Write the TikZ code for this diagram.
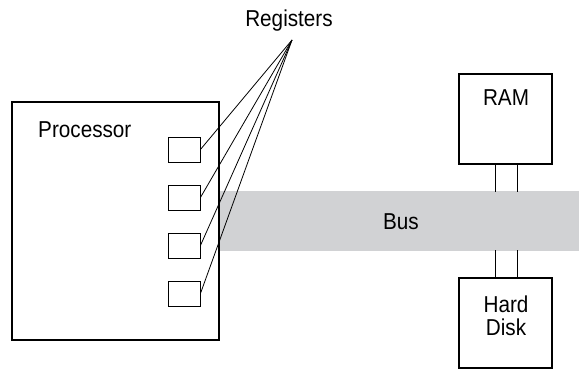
\documentclass[tikz,border=0pt]{standalone}
\usepackage{fontspec}
\setmainfont{Liberation Sans}[FakeStretch=0.9]
\begin{document}
\begin{tikzpicture}[x=1pt,y=-1pt,
  lbl/.style={font=\fontsize{23}{23}\selectfont, inner sep=0pt, anchor=base},
  regbox/.style={draw, line width=0.9pt, minimum width=32pt, minimum height=25pt, inner sep=0pt},
  devbox/.style={draw, line width=1.1pt, minimum width=93pt, minimum height=90pt, inner sep=0pt},
  link/.style={line width=0.8pt},
  busline/.style={line width=1pt}]
\useasboundingbox (0,0) rectangle (579,369);
% bus
\fill[fill={rgb,255:red,209;green,210;blue,212}] (219,191) rectangle (579,251);
\node[lbl] (bus) at (401,229) {Bus};
% processor
\node[draw, line width=1.5pt, minimum width=207pt, minimum height=238pt, inner sep=0pt] (proc) at (115.5,221) {};
\node[lbl, anchor=base west] (proclbl) at (38,138) {Processor};
% registers
\node[regbox] (r1) at (184,149.5) {};
\node[regbox] (r2) at (184,197.5) {};
\node[regbox] (r3) at (184,245.5) {};
\node[regbox] (r4) at (184,293.5) {};
\node[lbl] (reglbl) at (289,27) {Registers};
\coordinate (conv) at (292,40);
\foreach \i in {1,...,4} \draw[link] (r\i.east) -- (conv);
% RAM and disk
\node[devbox] (ram) at (505.5,119) {};
\node[lbl] (ramlbl) at (506,106) {RAM};
\node[devbox] (disk) at (505.5,323) {};
\node[lbl] (hardlbl) at (506,312) {Hard};
\node[lbl] (disklbl) at (506,335) {Disk};
\draw[busline] ([xshift=-10.5pt]ram.south) -- ++(0,27);
\draw[busline] ([xshift=11.5pt]ram.south) -- ++(0,27);
\draw[busline] ([xshift=-10.5pt]disk.north) -- ++(0,-27);
\draw[busline] ([xshift=11.5pt]disk.north) -- ++(0,-27);
\end{tikzpicture}
\end{document}
